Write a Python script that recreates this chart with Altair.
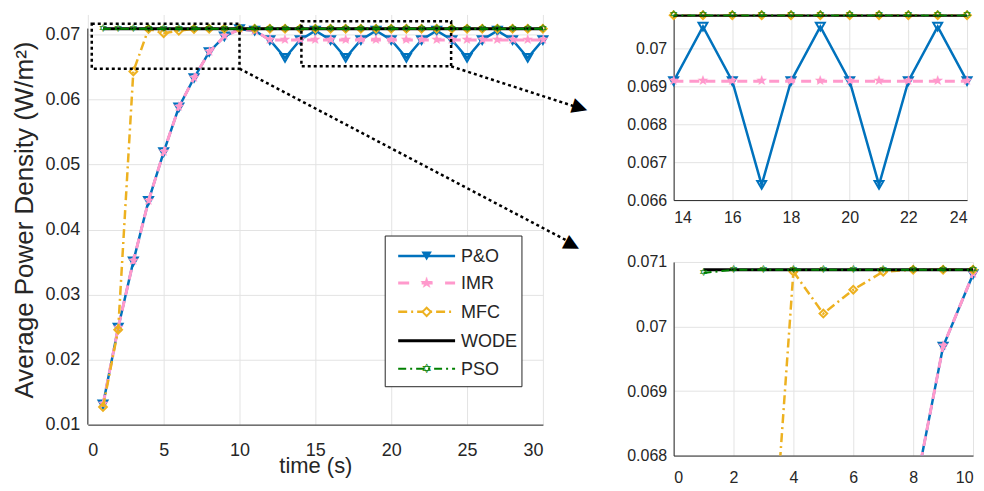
import altair as alt
import pandas as pd

# ---------------- data ----------------
t = list(range(1, 31))
po = [0.0131, 0.0249, 0.0351, 0.0444, 0.0519, 0.0588, 0.0633, 0.0673, 0.06969, 0.07081,
      0.07058, 0.06914, 0.0664, 0.06914, 0.07058, 0.06914, 0.0664, 0.06914, 0.07058, 0.06914,
      0.0664, 0.06914, 0.07058, 0.06914, 0.0664, 0.06914, 0.07058, 0.06914, 0.0664, 0.06914]
imr = [0.0131, 0.0249, 0.0351, 0.0444, 0.0519, 0.0588, 0.0633, 0.0673, 0.06969, 0.07081,
       0.0706, 0.06914, 0.06914, 0.06914, 0.06914, 0.06914, 0.06914, 0.06914, 0.06914, 0.06914,
       0.06914, 0.06914, 0.06914, 0.06914, 0.06914, 0.06914, 0.06914, 0.06914, 0.06914, 0.06914]
mfc = [0.0127, 0.0246, 0.0643, 0.07085, 0.0702, 0.07057, 0.07085, 0.07088, 0.07088, 0.07088,
       0.07088, 0.07088, 0.07088, 0.07088, 0.07088, 0.07088, 0.07088, 0.07088, 0.07088, 0.07088,
       0.07088, 0.07088, 0.07088, 0.07088, 0.07088, 0.07088, 0.07088, 0.07088, 0.07088, 0.07088]
wode = [0.07088, 0.07088, 0.07088, 0.07088, 0.07088, 0.07088, 0.07088, 0.07088, 0.07088, 0.07088,
        0.07088, 0.07088, 0.07088, 0.07088, 0.07088, 0.07088, 0.07088, 0.07088, 0.07088, 0.07088,
        0.07088, 0.07088, 0.07088, 0.07088, 0.07088, 0.07088, 0.07088, 0.07088, 0.07088, 0.07088]
pso = [0.07083, 0.07088, 0.07088, 0.07088, 0.07088, 0.07088, 0.07088, 0.07088, 0.07088, 0.07088,
       0.07088, 0.07088, 0.07088, 0.07088, 0.07088, 0.07088, 0.07088, 0.07088, 0.07088, 0.07088,
       0.07088, 0.07088, 0.07088, 0.07088, 0.07088, 0.07088, 0.07088, 0.07088, 0.07088, 0.07088]

series_names = ["P&O", "IMR", "MFC", "WODE", "PSO"]
series_values = [po, imr, mfc, wode, pso]

main_xticks = [0, 5, 10, 15, 20, 25, 30]
main_yticks = [0.01, 0.02, 0.03, 0.04, 0.05, 0.06, 0.07]
top_xticks = [14, 16, 18, 20, 22, 24]
top_yticks = [0.066, 0.067, 0.068, 0.069, 0.07]
bot_xticks = [0, 2, 4, 6, 8, 10]
bot_yticks = [0.068, 0.069, 0.07, 0.071]

rows = []
for name, vals in zip(series_names, series_values):
    for ti, v in zip(t, vals):
        rows.append({"t": ti, "v": v, "series": name})
df = pd.DataFrame(rows)

# ---------------- styles ----------------
FONT = "Liberation Sans"
GLYPH_FONT = "DejaVu Sans"
TXT = "#262626"

# kind "point": built-in symbol; kind "glyph": text glyph used as a marker
style = {
    "P&O": dict(color="#0072BD", dash=None, width=2.5, kind="point", shape="triangle-down", size=80, sw=2),
    "IMR": dict(color="#FF99CC", dash=[10, 6], width=3, kind="glyph", glyph="★", fs=14, bold=False),
    "MFC": dict(color="#EDB120", dash=[9, 4, 2, 4], width=2.5, kind="point", shape="diamond", size=60, sw=2),
    "WODE": dict(color="black", dash=None, width=3, kind=None),
    "PSO": dict(color="#008000", dash=[8, 4, 2, 4], width=2, kind="glyph", glyph="✡", fs=11, bold=True),
}

one = pd.DataFrame({"k": [0]})


def glyph_mark(s, fs=None):
    return dict(text=s["glyph"], font=GLYPH_FONT, fontSize=fs or s["fs"], color=s["color"], align="center",
                baseline="middle", fontWeight="bold" if s["bold"] else "normal")


def panel(xdom, ydom, xaxis, yaxis):
    X = alt.X("t:Q", scale=alt.Scale(domain=xdom, nice=False, zero=False), axis=xaxis)
    Y = alt.Y("v:Q", scale=alt.Scale(domain=ydom, nice=False, zero=False), axis=yaxis)
    layers = []
    for name in series_names:
        s = style[name]
        d = df[df.series == name]
        lkw = dict(color=s["color"], strokeWidth=s["width"], clip=True)
        if s["dash"]:
            lkw["strokeDash"] = s["dash"]
        layers.append(alt.Chart(d).mark_line(**lkw).encode(x=X, y=Y))
        if s["kind"]:
            dd = d[(d.t >= xdom[0]) & (d.t <= xdom[1]) & (d.v >= ydom[0]) & (d.v <= ydom[1] + 1e-5)]
            if s["kind"] == "point":
                mk = alt.Chart(dd).mark_point(shape=s["shape"], size=s["size"], filled=False,
                                              strokeWidth=s["sw"], color=s["color"], opacity=1)
            else:
                mk = alt.Chart(dd).mark_text(**glyph_mark(s))
            layers.append(mk.encode(x=X, y=Y))
    return layers


# ---------------- main panel ----------------
main_x_axis = alt.Axis(values=main_xticks, title="time (s)", grid=True, ticks=False,
                       labelPadding=17, labelFontSize=18, titleFontSize=22,
                       titleY=41, titleBaseline="middle")
main_y_axis = alt.Axis(values=main_yticks, format=".2f", title="Average Power Density (W/m²)",
                       grid=True, ticks=False, domain=False, labelPadding=8,
                       labelFontSize=18, titleFontSize=26, titleX=-63, titleBaseline="middle")
main_layers = panel([0, 30], [0.01, 0.07307], main_x_axis, main_y_axis)

# visible y axis line only up to the top of the plotted range
main_layers.append(alt.Chart(one).mark_rule(color=TXT, strokeWidth=1).encode(
    x=alt.datum(0), y=alt.datum(0.01), y2=alt.datum(0.0709)))

# dotted zoom rectangles
dot = dict(stroke="black", strokeDash=[3, 3], strokeWidth=2.5, fillOpacity=0)
main_layers.append(alt.Chart(one).mark_rect(**dot).encode(
    x=alt.datum(0.26), x2=alt.datum(10.0), y=alt.datum(0.06474), y2=alt.datum(0.07164)))
main_layers.append(alt.Chart(one).mark_rect(**dot).encode(
    x=alt.datum(14.08), x2=alt.datum(23.95), y=alt.datum(0.06509), y2=alt.datum(0.07204)))

# dotted arrows towards the insets
main_layers.append(alt.Chart(one).mark_rule(color="black", strokeDash=[3, 3], strokeWidth=2.5).encode(
    x=alt.datum(10.0), y=alt.datum(0.06474), x2=alt.datum(31.5), y2=alt.datum(0.0384)))
main_layers.append(alt.Chart(one).mark_rule(color="black", strokeDash=[3, 3], strokeWidth=2.5).encode(
    x=alt.datum(23.95), y=alt.datum(0.06509), x2=alt.datum(32.0), y2=alt.datum(0.0590)))
arrow_txt = dict(text="▶", font=GLYPH_FONT, fontSize=20, color="black", align="center", baseline="middle")
main_layers.append(alt.Chart(one).mark_text(angle=28, **arrow_txt).encode(
    x=alt.datum(31.96), y=alt.datum(0.03767)))
main_layers.append(alt.Chart(one).mark_text(angle=17.5, **arrow_txt).encode(
    x=alt.datum(32.46), y=alt.datum(0.05881)))

# legend box (pixel positions inside the main plot area)
main_layers.append(alt.Chart(one).mark_rect(fill="white", stroke=TXT, strokeWidth=1).encode(
    x=alt.value(298), x2=alt.value(435), y=alt.value(222), y2=alt.value(373)))
leg_y = [242, 269, 298, 327, 355]
for name, yy in zip(series_names, leg_y):
    s = style[name]
    rk = dict(color=s["color"], strokeWidth=s["width"])
    if name == "IMR":
        rk["strokeDash"] = [11, 12.5]
    elif s["dash"]:
        rk["strokeDash"] = s["dash"]
    main_layers.append(alt.Chart(one).mark_rule(**rk).encode(
        x=alt.value(311), x2=alt.value(368), y=alt.value(yy)))
    if name == "P&O":
        main_layers.append(alt.Chart(one).mark_point(shape="triangle-down", size=110, filled=True,
                                                     color=s["color"], opacity=1).encode(
            x=alt.value(339.5), y=alt.value(yy)))
    elif name == "MFC":
        main_layers.append(alt.Chart(one).mark_point(shape="diamond", size=70, filled=True,
                                                     color="white", opacity=1).encode(
            x=alt.value(339.5), y=alt.value(yy)))
        main_layers.append(alt.Chart(one).mark_point(shape="diamond", size=70, filled=False,
                                                     strokeWidth=2, color=s["color"], opacity=1).encode(
            x=alt.value(339.5), y=alt.value(yy)))
    elif s["kind"] == "glyph":
        main_layers.append(alt.Chart(one).mark_text(**glyph_mark(s, s["fs"] + 2)).encode(
            x=alt.value(339.5), y=alt.value(yy)))
    main_layers.append(alt.Chart(one).mark_text(text=name, align="left", baseline="middle",
                                                fontSize=18, font=FONT, color=TXT).encode(
        x=alt.value(374), y=alt.value(yy + 1)))

main = alt.layer(*main_layers).properties(width=456, height=411)

# ---------------- top inset ----------------
top_layers = panel([14, 24], [0.066, 0.0709],
                   alt.Axis(values=top_xticks, title=None, grid=True, ticks=False, labelPadding=9,
                            labelFontSize=16),
                   alt.Axis(values=top_yticks, title=None, grid=True, ticks=False, labelPadding=7,
                            labelFontSize=16, format=".3~f"))
top = alt.layer(*top_layers).properties(width=294, height=186)

# ---------------- bottom inset ----------------
bot_layers = panel([0, 10], [0.068, 0.071],
                   alt.Axis(values=bot_xticks, title=None, grid=True, ticks=False, labelPadding=14,
                            labelFontSize=16),
                   alt.Axis(values=bot_yticks, title=None, grid=True, ticks=False, labelPadding=7,
                            labelFontSize=16, format=".3~f"))
bot = alt.layer(*bot_layers).properties(width=300, height=194)

right = alt.vconcat(top, bot, spacing=29)
chart = alt.hconcat(main, right, spacing=35).properties(
    padding={"left": 11, "top": 6, "right": 2, "bottom": 2}
).configure_view(stroke=None).configure_axis(
    labelFont=FONT, titleFont=FONT, labelColor=TXT, titleColor=TXT, titleFontWeight="normal",
    gridColor="#e3e3e3", gridWidth=1, domainColor=TXT, domainWidth=1
)

chart.save("out.html", embed_options={"renderer": "svg", "actions": False})
